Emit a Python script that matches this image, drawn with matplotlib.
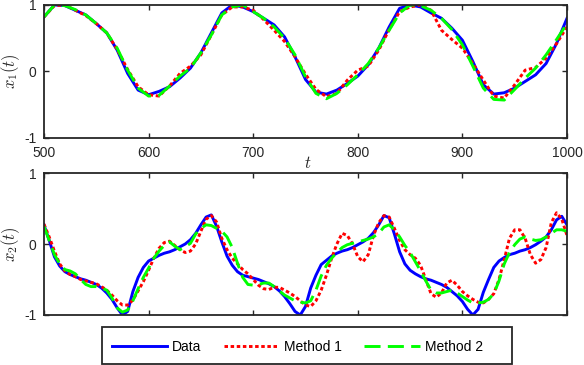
import numpy as np
import matplotlib
matplotlib.use("Agg")
import matplotlib.pyplot as plt
from matplotlib.patches import Rectangle

# top panel, sampled every 10
t_top = np.arange(500, 1001, 10)
x1_data = [0.82, 1.0, 0.99, 0.92, 0.85, 0.72, 0.58, 0.32, -0.03, -0.28,
           -0.35, -0.30, -0.23, -0.10, 0.05, 0.28, 0.58, 0.88, 1.0, 0.97,
           0.90, 0.80, 0.70, 0.52, 0.22, -0.12, -0.31, -0.34, -0.28, -0.18,
           -0.07, 0.10, 0.35, 0.67, 0.95, 1.0, 0.97, 0.88, 0.80, 0.65,
           0.47, 0.15, -0.20, -0.34, -0.32, -0.25, -0.15, -0.05, 0.12, 0.42,
           0.80]
x1_m1 = [0.82, 0.99, 1.0, 0.92, 0.84, 0.72, 0.58, 0.33, 0.03, -0.23,
         -0.35, -0.37, -0.22, -0.03, 0.08, 0.25, 0.55, 0.85, 0.97, 0.97,
         0.92, 0.78, 0.62, 0.45, 0.22, -0.04, -0.27, -0.38, -0.33, -0.13,
         0.02, 0.08, 0.32, 0.63, 0.90, 0.97, 1.0, 0.92, 0.62, 0.48,
         0.35, 0.12, -0.13, -0.37, -0.40, -0.20, 0.02, 0.06, 0.20, 0.42,
         0.67]
x1_m2 = [0.82, 1.0, 0.99, 0.93, 0.85, 0.72, 0.58, 0.35, 0.02, -0.25,
         -0.37, -0.36, -0.22, -0.07, 0.05, 0.28, 0.55, 0.85, 0.97, 1.0,
         0.90, 0.80, 0.67, 0.50, 0.25, -0.08, -0.33, -0.41, -0.33, -0.20,
         -0.05, 0.12, 0.35, 0.62, 0.88, 1.0, 0.99, 0.92, 0.80, 0.63,
         0.40, 0.08, -0.25, -0.42, -0.43, -0.27, -0.10, 0.05, 0.25, 0.48,
         0.72]

# bottom panel, sampled every 5
t_bot = np.arange(500, 1001, 5)
x2_data = [0.27, 0.05, -0.18, -0.31, -0.39, -0.43, -0.46, -0.49, -0.51, -0.54,
           -0.57, -0.62, -0.69, -0.78, -0.90, -1.0, -0.95, -0.67, -0.47, -0.33,
           -0.24, -0.20, -0.16, -0.13, -0.11, -0.08, -0.04, 0.0, 0.06, 0.15,
           0.27, 0.38, 0.41, 0.25, 0.03, -0.17, -0.30, -0.39, -0.44, -0.46,
           -0.48, -0.50, -0.53, -0.56, -0.60, -0.66, -0.74, -0.84, -0.95, -1.0,
           -0.88, -0.62, -0.44, -0.29, -0.23, -0.17, -0.13, -0.10, -0.08, -0.05,
           -0.01, 0.03, 0.08, 0.16, 0.27, 0.40, 0.37, 0.14, -0.11, -0.28,
           -0.37, -0.42, -0.46, -0.49, -0.51, -0.54, -0.57, -0.61, -0.67, -0.73,
           -0.81, -0.92, -1.0, -0.92, -0.68, -0.50, -0.33, -0.24, -0.19, -0.15,
           -0.13, -0.10, -0.08, -0.05, -0.01, 0.04, 0.10, 0.20, 0.34, 0.39,
           0.27]
x2_m1 = [0.28, 0.10, -0.10, -0.28, -0.38, -0.43, -0.46, -0.50, -0.52, -0.54,
         -0.56, -0.60, -0.65, -0.72, -0.80, -0.86, -0.86, -0.79, -0.66, -0.53,
         -0.37, -0.20, -0.06, 0.02, 0.04, -0.02, -0.08, -0.12, -0.10, 0.0,
         0.18, 0.35, 0.40, 0.31, 0.08, -0.08, -0.20, -0.28, -0.36, -0.42,
         -0.50, -0.58, -0.63, -0.64, -0.61, -0.61, -0.65, -0.69, -0.74, -0.80,
         -0.86, -0.88, -0.80, -0.65, -0.44, -0.20, 0.0, 0.15, 0.12, 0.0,
         -0.18, -0.25, -0.15, 0.12, 0.30, 0.40, 0.38, 0.22, 0.05, -0.08,
         -0.15, -0.20, -0.30, -0.50, -0.70, -0.75, -0.69, -0.55, -0.51, -0.58,
         -0.67, -0.73, -0.78, -0.82, -0.83, -0.78, -0.70, -0.50, -0.22, 0.08,
         0.20, 0.20, 0.08, -0.15, -0.27, -0.22, -0.05, 0.30, 0.44, 0.35,
         0.12]
x2_m2 = [0.25, 0.05, -0.15, -0.28, -0.36, -0.38, -0.42, -0.50, -0.57, -0.60,
         -0.60, -0.62, -0.65, -0.76, -0.90, -0.96, -0.93, -0.80, -0.63, -0.47,
         -0.34, -0.20, -0.10, -0.02, 0.03, -0.03, -0.08, -0.04, 0.01, 0.14,
         0.22, 0.27, 0.26, 0.22, 0.18, 0.10, -0.05, -0.27, -0.47, -0.57,
         -0.58, -0.57, -0.55, -0.55, -0.60, -0.66, -0.72, -0.76, -0.80, -0.82,
         -0.83, -0.80, -0.65, -0.45, -0.30, -0.20, -0.12, -0.05, -0.01, 0.01,
         0.03, 0.05, 0.07, 0.10, 0.15, 0.24, 0.27, 0.20, 0.10, -0.02,
         -0.12, -0.25, -0.38, -0.52, -0.65, -0.69, -0.69, -0.67, -0.65, -0.69,
         -0.74, -0.79, -0.83, -0.83, -0.82, -0.78, -0.70, -0.52, -0.28, -0.12,
         -0.01, 0.07, 0.10, 0.07, 0.05, 0.06, 0.10, 0.15, 0.20, 0.20,
         0.18]

labels = ["Data", "Method 1", "Method 2"]

plt.rcParams['font.family'] = ['Liberation Sans', 'DejaVu Sans']
plt.rcParams['mathtext.fontset'] = 'cm'
plt.rcParams['axes.unicode_minus'] = False

dark = (0.15, 0.15, 0.15)
fig = plt.figure(figsize=(5.84, 3.65), dpi=100)
ax1 = fig.add_axes([0.0753, 0.622, 0.8956, 0.3644])
ax2 = fig.add_axes([0.0753, 0.137, 0.8956, 0.389])

styles = [dict(color=(0, 0, 1), ls='-'),
          dict(color=(1, 0, 0), ls=(0, (1.2, 0.9))),
          dict(color=(0, 1, 0), ls=(0, (5.5, 2.5)))]

lines = []
for ys, st, lab in zip([x1_data, x1_m1, x1_m2], styles, labels):
    ax1.plot(t_top, ys, lw=2.1, label=lab, **st)
for ys, st, lab in zip([x2_data, x2_m1, x2_m2], styles, labels):
    ln, = ax2.plot(t_bot, ys, lw=2.1, label=lab, **st)
    lines.append(ln)

for ax in (ax1, ax2):
    ax.set_xlim(500, 1000)
    ax.set_ylim(-1, 1)
    ax.set_yticks([-1, 0, 1])
    ax.set_xticks([500, 600, 700, 800, 900, 1000])
    ax.tick_params(direction='in', length=3.5, width=1.0, top=True, right=True,
                   labelsize=10, colors=dark, pad=5.5)
    for sp in ax.spines.values():
        sp.set_linewidth(1.3)
        sp.set_color(dark)

ax1.set_ylabel('$x_1(t)$', fontsize=12, color=dark)
ax2.set_ylabel('$x_2(t)$', fontsize=12, color=dark)
ax1.yaxis.set_label_coords(-0.042, 0.5)
ax2.yaxis.set_label_coords(-0.042, 0.5)
ax1.set_xlabel('$t$', fontsize=12, color=dark)
ax1.xaxis.set_label_coords(0.505, -0.13)
ax2.set_xticklabels([])

# legend box drawn separately so the entries can sit like the original
box = Rectangle((102 / 584, 1 / 365), 410 / 584, 37 / 365, transform=fig.transFigure,
                facecolor='white', edgecolor=dark, linewidth=1.3, zorder=3)
fig.add_artist(box)
leg = fig.legend(lines, labels, ncol=3, loc='center',
                 bbox_to_anchor=(0.509, 0.05), fontsize=10, handlelength=4.0,
                 frameon=False, borderpad=0, borderaxespad=0,
                 handletextpad=0.35, columnspacing=1.6)
leg.set_zorder(4)

fig.savefig("out.png", dpi=100)
